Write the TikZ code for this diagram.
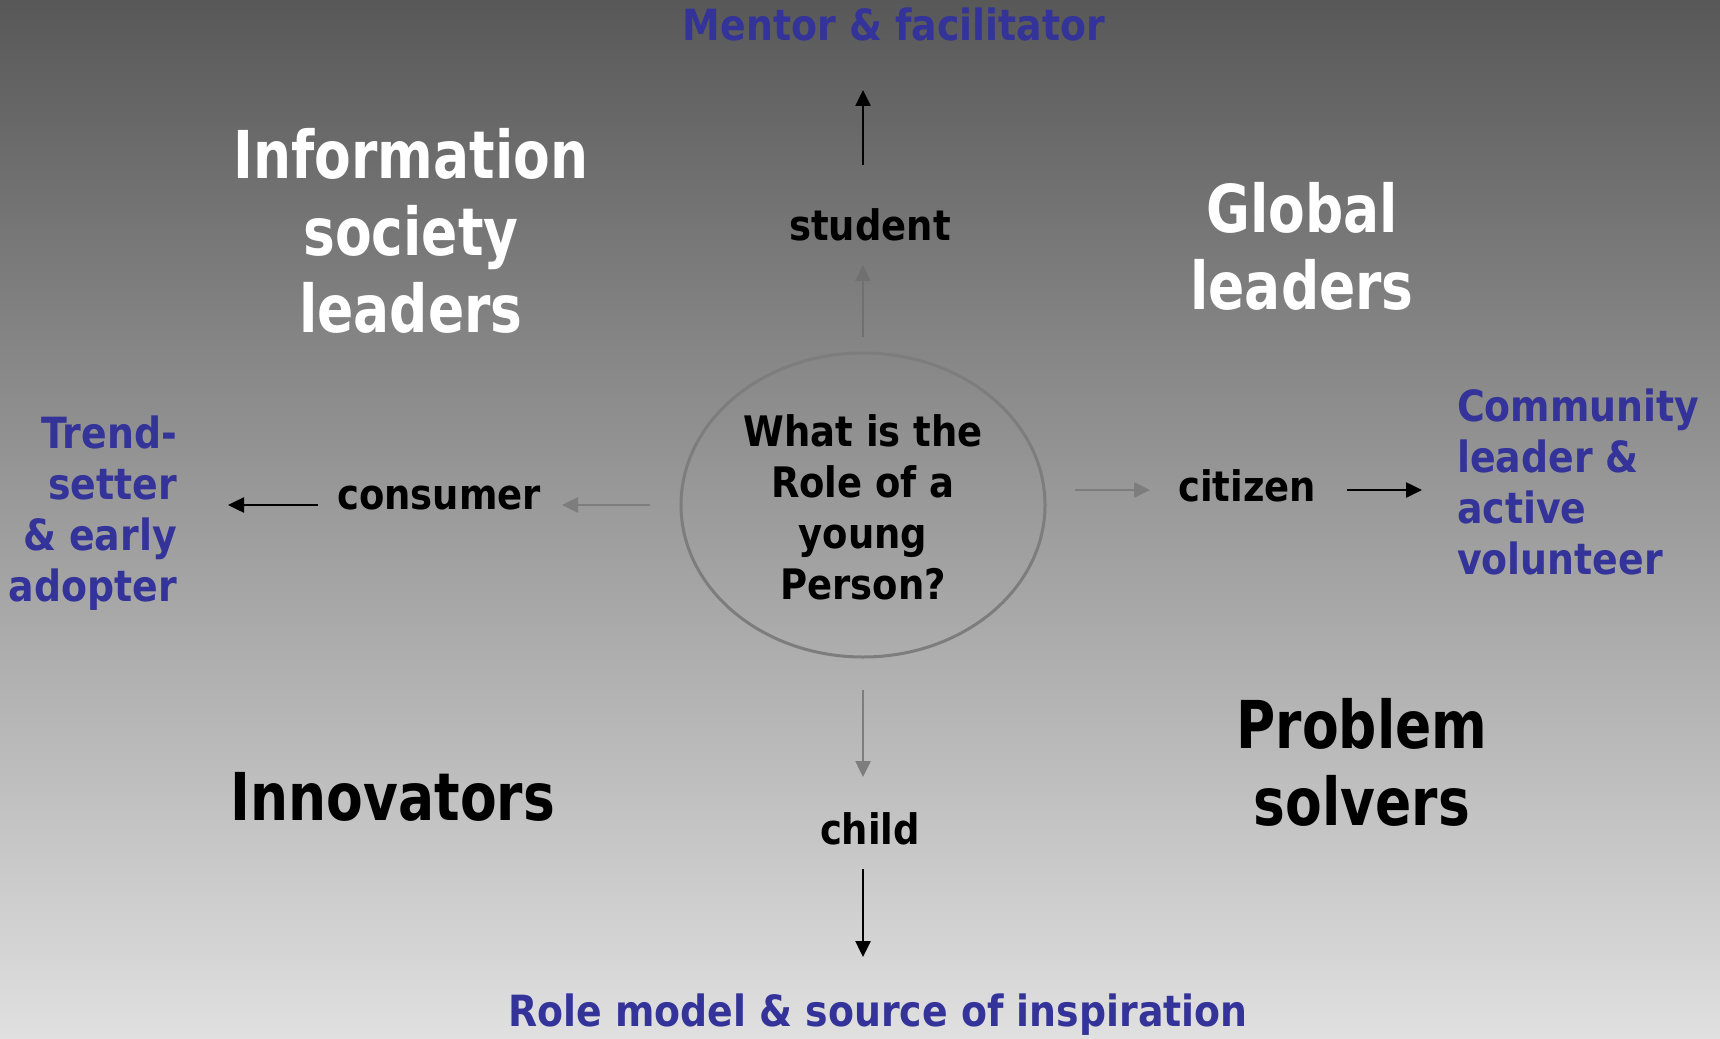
\documentclass[tikz,border=0pt]{standalone}
\usepackage{fontspec}
\usetikzlibrary{arrows.meta,shapes.geometric}
\newfontfamily\tf{DejaVu Sans}[FakeStretch=0.88]
\newfontfamily\tfbig{DejaVu Sans}[FakeStretch=0.81]
\definecolor{myblue}{RGB}{51,51,153}
\definecolor{arrgray}{RGB}{125,125,125}
\definecolor{upgray}{RGB}{112,112,112}
\definecolor{bgtop}{RGB}{88,88,88}
\definecolor{bgmid}{RGB}{180,180,180}
\definecolor{bgbot}{RGB}{224,224,224}
\begin{document}
\begin{tikzpicture}[x=1pt,y=-1pt,
  every node/.style={inner sep=0pt},
  bigw/.style={text=white, font=\tfbig\bfseries\fontsize{66}{77}\selectfont, align=center},
  bigb/.style={text=black, font=\tfbig\bfseries\fontsize{66}{77}\selectfont, align=center},
  bluetxt/.style={text=myblue, font=\tf\bfseries\fontsize{43}{51}\selectfont},
  roletxt/.style={text=black, font=\tf\bfseries\fontsize{42}{51}\selectfont, align=center},
  garrow/.style={draw=arrgray, line width=2.5pt, -{Triangle[width=15pt,length=16pt]}},
  barrow/.style={draw=black, line width=2.5pt, -{Triangle[width=15pt,length=16pt]}}]
\useasboundingbox (0,0) rectangle (1720,1038);
\shade[top color=bgtop, middle color=bgmid, bottom color=bgbot] (0,0) rectangle (1720,1038);

% central ellipse
\node[ellipse, draw=arrgray, line width=3pt, minimum width=364pt, minimum height=304pt] (ell) at (863,505) {};
\node[roletxt] (q) at (863,507) {What is the\\Role of a\\young\\Person?};

% corner labels
\node[bigw] (isl) at (411,231) {Information\\society\\leaders};
\node[bigw] (gl) at (1302,246) {Global\\leaders};
\node[bigb] (inn) at (393,797) {Innovators};
\node[bigb] (ps) at (1362,762) {Problem\\solvers};

% role words
\node[roletxt] (stu) at (870,225) {student};
\node[roletxt] (con) at (439,498) {consumer};
\node[roletxt] (cit) at (1247,486) {citizen};
\node[roletxt] (chi) at (870,829) {child};

% outcomes
\node[bluetxt] (men) at (894,24) {Mentor \& facilitator};
\node[bluetxt, align=right, anchor=east] (ts) at (177,513) {Trend-\\setter\\\& early\\adopter};
\node[bluetxt, align=left, anchor=west] (com) at (1457,482) {Community\\leader \&\\active\\volunteer};
\node[bluetxt] (rm) at (878,1015) {Role model \& source of inspiration};

% arrow end points
\coordinate (gU) at (863,265);
\coordinate (gL) at (562,505);
\coordinate (gD) at (863,777);
\coordinate (gR0) at (1075,490);
\coordinate (gR1) at (1150,490);
\coordinate (bU0) at (863,165);
\coordinate (bU1) at (863,90);
\coordinate (bL0) at (318,505);
\coordinate (bL1) at (228,505);
\coordinate (bR0) at (1347,490);
\coordinate (bR1) at (1422,490);
\coordinate (bD0) at (863,869);
\coordinate (bD1) at (863,957);

% gray arrows from the centre
\draw[garrow, draw=upgray, shorten <=15pt] (ell.north) -- (gU);
\draw[garrow, shorten <=30pt] (ell.west) -- (gL);
\draw[garrow, shorten <=31pt] (ell.south) -- (gD);
\draw[garrow] (gR0) -- (gR1);

% black arrows to outcomes
\draw[barrow] (bU0) -- (bU1);
\draw[barrow] (bL0) -- (bL1);
\draw[barrow] (bR0) -- (bR1);
\draw[barrow] (bD0) -- (bD1);
\end{tikzpicture}
\end{document}
